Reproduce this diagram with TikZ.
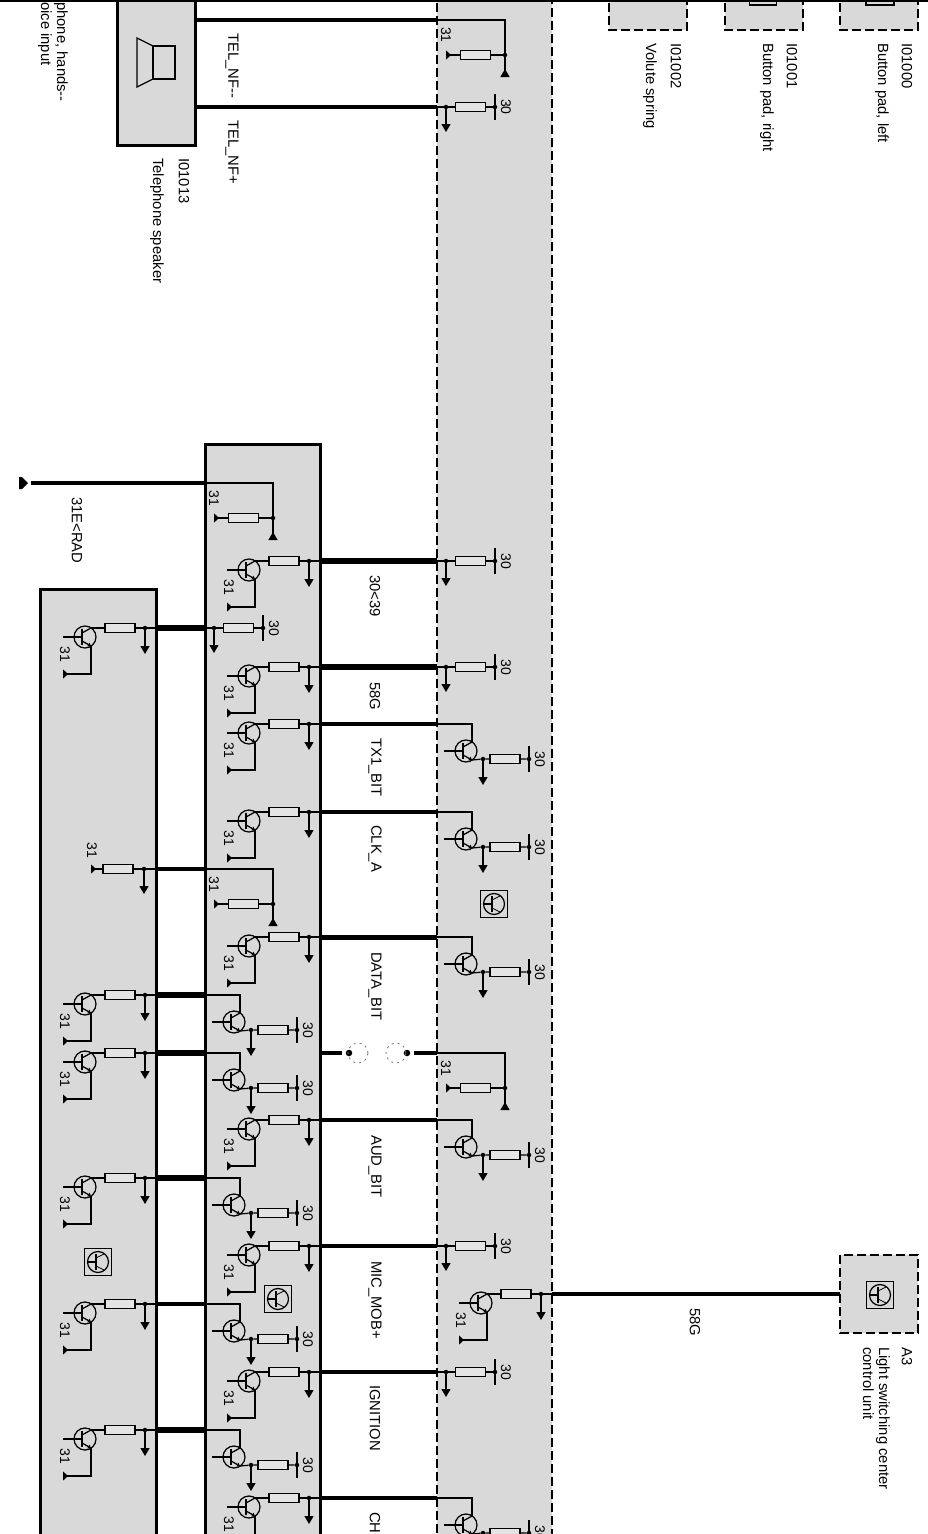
\documentclass[tikz,border=0pt]{standalone}
\usepackage{fontspec}
\setmainfont{Liberation Sans}
\usetikzlibrary{arrows.meta}
\definecolor{boxgray}{HTML}{D9D9D9}
\tikzset{
  Thin/.style={line width=1.25pt},
  Bus/.style={line width=4.8pt},
  Frame/.style={draw=black,line width=3pt,fill=boxgray},
  Dashframe/.style={draw=black,line width=2.7pt,fill=boxgray,dash pattern=on 9pt off 4pt},
  Dot/.style={circle,fill=black,inner sep=0pt,minimum size=4.5pt},
  Res/.style={rectangle,draw=black,line width=1.25pt,fill=boxgray!70!white,inner sep=0pt,minimum width=30pt,minimum height=9pt},
  Lbl/.style={rotate=-90,anchor=west,inner sep=0pt,font=\fontsize{14.8}{16}\selectfont},
  Pin/.style={rotate=-90,inner sep=0pt,font=\fontsize{14}{15}\selectfont},
  Down/.style={Thin,-{Triangle[length=8pt,width=9pt]}},
  Gnd/.style={Thin,-{Triangle[reversed,length=5pt,width=9pt]}},
  Up/.style={Thin,-{Triangle[reversed,length=8pt,width=9pt]}},
  pics/qsym/.style={code={
    \node[circle,draw=black,line width=1.25pt,inner sep=0pt,minimum size=22pt] (-o) at (0,0) {};
    \coordinate (-c) at (6,-9);
    \coordinate (-e) at (6,9);
    \coordinate (-s) at (-3,0);
    \draw[Thin] (-3,-8) -- (-3,8);
    \draw[Thin] (-3,-4) -- (-c);
    \draw[Thin,-{Triangle[length=3pt,width=4pt]}] (-3,4) -- (-e);
  }},
  pics/pullup/.style={code={
    \coordinate (-t) at (0,0);
    \node[Dot] (-j) at (9,0) {};
    \node[Res] (-r) at (33.5,0) {};
    \node[Dot] (-b) at (58,0) {};
    \coordinate (-a) at (9,25);
    \node[Pin] (-p) at (69,0) {30};
    \draw[Thin] (-t) -- (-j) -- (-r) -- (-b);
    \draw[Thin] (58,-13) -- (58,13);
    \draw[Down] (-j) -- (-a);
  }},
  pics/pulldown/.style={code={
    \coordinate (-t) at (0,0);
    \coordinate (-k) at (68,0);
    \node[Dot] (-j) at (68,35) {};
    \node[Res] (-r) at (38.5,35) {};
    \coordinate (-g) at (9,35);
    \coordinate (-a) at (68,57);
    \node[Pin] (-p) at (9,15) {31};
    \draw[Thin] (-t) -- (-k) -- (-j) -- (-r);
    \draw[Gnd] (-r) -- (-g);
    \draw[Up] (-j) -- (-a);
  }},
  pics/lowdrv/.style={code={
    \coordinate (-t) at (0,0);
    \node[Dot] (-j) at (-11,0) {};
    \coordinate (-a) at (-11,26);
    \node[Res] (-r) at (-36,0) {};
    \pic (-q) at (-71,9) {qsym};
    \coordinate (-b) at (-93,9);
    \coordinate (-f) at (-65,46);
    \coordinate (-g) at (-93,46);
    \node[Pin] (-p) at (-91,26) {31};
    \draw[Thin] (-t) -- (-j) -- (-r) -- (-q-c);
    \draw[Down] (-j) -- (-a);
    \draw[Thin] (-b) -- (-q-s);
    \draw[Gnd] (-q-e) -- (-f) -- (-g);
  }},
  pics/highdrv/.style={code={
    \coordinate (-t) at (0,0);
    \coordinate (-k) at (35,0);
    \pic (-q) at (29,27) {qsym};
    \coordinate (-b) at (7,27);
    \node[Dot] (-j) at (46,35) {};
    \coordinate (-a) at (46,61);
    \node[Res] (-r) at (68,35) {};
    \node[Dot] (-n) at (92,35) {};
    \node[Pin] (-p) at (103,35) {30};
    \draw[Thin] (-t) -- (-k) -- (-q-c);
    \draw[Thin] (-b) -- (-q-s);
    \draw[Thin] (-q-e) -- (-j) -- (-r) -- (-n);
    \draw[Thin] (92,22) -- (92,48);
    \draw[Down] (-j) -- (-a);
  }},
  pics/chip/.style={code={
    \node[rectangle,draw=black,line width=1.25pt,inner sep=0pt,minimum size=27pt] (-s) at (0,0) {};
    \node[circle,draw=black,line width=1.25pt,inner sep=0pt,minimum size=21pt] (-o) at (0,0) {};
    \draw[Thin] (-10,0) -- (-2,0);
    \draw[Thin] (-2,-8) -- (-2,8);
    \draw[line width=.8pt] (-2,-4) -- (6,-8);
    \draw[line width=.8pt] (-2,4) -- (6,8);
  }},
}
\begin{document}
\begin{tikzpicture}[x=1pt,y=-1pt]
  \clip (0,0) rectangle (928,1534);
  % control unit boxes
  \draw[Dashframe] (437,-10) rectangle (552,1545);
  \draw[Frame] (205,444) rectangle (320,1545);
  \draw[Frame] (40,589) rectangle (156,1545);
  \draw[Frame] (117,-10) rectangle (195,145);
  \draw[Dashframe] (609,-10) rectangle (687,30);
  \draw[Dashframe] (725,-10) rectangle (803,30);
  \draw[Dashframe] (840,-10) rectangle (918,30);
  \draw[Dashframe] (840,1255) rectangle (918,1333);
  \draw[line width=1.5pt] (0,1) -- (928,1);
  \node[draw=black,line width=1.25pt,inner sep=0pt,minimum width=27pt,minimum height=6pt] (btnr) at (763,2) {};
  \node[draw=black,line width=1.25pt,inner sep=0pt,minimum width=28pt,minimum height=6pt] (btnl) at (880,2) {};
  % speaker
  \draw[Thin] (153,46) rectangle (175,79);
  \draw[Thin] (153,46) -- (137,38) -- (137,87) -- (153,79);
  % lines between right and middle unit
  \foreach \yy/\ww in {561/6.2,667/5.2,724/4.6,812/4.2,937/5,1120/4.6,1246/4.6,1372/4.6,1498/4.2} {
    \coordinate (m\yy) at (320,\yy);
    \coordinate (r\yy) at (437,\yy);
    \draw[line width=\ww pt] (m\yy) -- (r\yy);
    \pic (md\yy) at (m\yy) {lowdrv};
  }
  % lines between middle and left unit
  \foreach \yy/\ww in {628/5.6,869/4.6,995/5.4,1053/5.4,1178/5.4,1304/4.8,1430/5.4} {
    \coordinate (l\yy) at (156,\yy);
    \coordinate (n\yy) at (205,\yy);
    \draw[line width=\ww pt] (l\yy) -- (n\yy);
  }
  \foreach \yy in {628,995,1053,1178,1304,1430} {
    \pic (ld\yy) at (l\yy) {lowdrv};
  }
  \foreach \yy in {995,1053,1178,1304,1430} {
    \pic (mh\yy) at (n\yy) {highdrv};
  }
  \foreach \yy in {724,812,937,1120,1498} {
    \pic (rh\yy) at (r\yy) {highdrv};
  }
  \foreach \yy in {561,667,1246,1372} {
    \pic (ru\yy) at (r\yy) {pullup};
  }
  \pic (mu628) at (n628) {pullup};
  \pic (mp869) at (n869) {pulldown};
  % speaker lines
  \coordinate (s20) at (195,20);
  \coordinate (s107) at (195,107);
  \coordinate (r20) at (437,20);
  \coordinate (r107) at (437,107);
  \draw[Bus] (s20) -- (r20);
  \draw[line width=4pt] (s107) -- (r107);
  \pic (rp20) at (r20) {pulldown};
  \pic (ru107) at (r107) {pullup};
  % ground line
  \coordinate (gnd) at (31,483);
  \coordinate (n483) at (205,483);
  \draw[Bus] (n483) -- (gnd);
  \fill (19,477) -- (22,477) -- (28,483) -- (22,489) -- (19,489) -- cycle;
  \pic (mp483) at (n483) {pulldown};
  % left unit resistor
  \node[Dot] (lj869) at (144,869) {};
  \node[Res] (lr869) at (118,869) {};
  \coordinate (lg869) at (91,869);
  \coordinate (la869) at (144,894);
  \node[Pin] (lp869) at (92,850) {31};
  \draw[Thin] (l869) -- (lj869) -- (lr869);
  \draw[Gnd] (lr869) -- (lg869);
  \draw[Down] (lj869) -- (la869);
  % plug between middle and right unit
  \coordinate (m1053) at (320,1053);
  \coordinate (r1053) at (437,1053);
  \coordinate (pc) at (342,1053);
  \coordinate (pd) at (414,1053);
  \node[Dot,minimum size=6.5pt] (pa) at (349,1053) {};
  \node[Dot,minimum size=6.5pt] (pb) at (407,1053) {};
  \node[circle,draw=black!55,dash pattern=on 2pt off 4pt,line width=.8pt,minimum size=20pt,inner sep=0pt] (ca) at (358,1053) {};
  \node[circle,draw=black!55,dash pattern=on 2pt off 4pt,line width=.8pt,minimum size=20pt,inner sep=0pt] (cb) at (396,1053) {};
  \draw[Bus] (m1053) -- (pc);
  \draw[Bus] (pd) -- (r1053);
  \pic (rp1053) at (r1053) {pulldown};
  % light switching center
  \coordinate (r1294) at (552,1294);
  \coordinate (a1294) at (840,1294);
  \draw[Bus] (r1294) -- (a1294);
  \pic (rd1294) at (r1294) {lowdrv};
  % symbols
  \pic (s1) at (494,904) {chip};
  \pic (s2) at (278,1299) {chip};
  \pic (s3) at (98,1262) {chip};
  \pic (s4) at (880,1295) {chip};
  % labels
  \node[Lbl] (t1) at (232,33) {TEL\_NF{-}{-}};
  \node[Lbl] (t2) at (232,120) {TEL\_NF+};
  \node[Lbl] (t3) at (375,575) {30<39};
  \node[Lbl] (t4) at (375,682) {58G};
  \node[Lbl] (t5) at (375,738) {TX1\_BIT};
  \node[Lbl] (t6) at (375,825) {CLK\_A};
  \node[Lbl] (t7) at (375,952) {DATA\_BIT};
  \node[Lbl] (t8) at (375,1135) {AUD\_BIT};
  \node[Lbl] (t9) at (375,1261) {MIC\_MOB+};
  \node[Lbl] (t10) at (375,1385) {IGNITION};
  \node[Lbl] (t11) at (375,1512) {CH};
  \node[Lbl] (t12) at (77,497) {31E<RAD};
  \node[Lbl] (t13) at (695,1308) {58G};
  \node[Lbl] (d1) at (184,158) {I01013};
  \node[Lbl] (d2) at (157,158) {Telephone speaker};
  \node[Lbl] (d3) at (676,43) {I01002};
  \node[Lbl] (d4) at (650,43) {Volute spring};
  \node[Lbl] (d5) at (792,43) {I01001};
  \node[Lbl] (d6) at (767,43) {Button pad, right};
  \node[Lbl] (d7) at (907,43) {I01000};
  \node[Lbl] (d8) at (882,43) {Button pad, left};
  \node[Lbl] (d9) at (907,1347) {A3};
  \node[Lbl,anchor=north west,align=left] (d10) at (890,1347) {Light switching center\\control unit};
  \node[Lbl,anchor=north west,align=left] (d11) at (68,2) {phone, hands{-}{-}\\oice input};
\end{tikzpicture}
\end{document}
